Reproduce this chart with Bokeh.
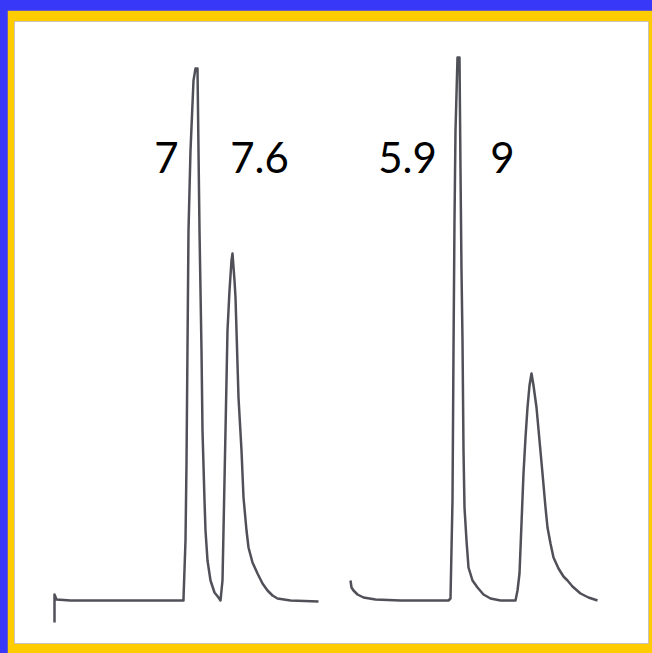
from bokeh.plotting import figure
from bokeh.models import Range1d, ColumnDataSource
from bokeh.core.properties import value
from bokeh.embed import file_html
from bokeh.resources import INLINE

# Chromatogram A (left): retention position, detector signal
trace_a_x = [54, 54, 56, 70, 120, 183, 183, 185, 186, 188, 190, 193, 195,
             197, 198, 199, 201, 202, 204, 205, 207, 210, 214, 218, 220,
             222, 223, 225, 227, 229, 231, 232, 234, 235, 238, 241, 243, 246,
             248, 252, 257, 262, 267, 272, 277, 290, 318]
trace_a_y = [-22, 6, 1, 0, 0, 0, 2, 60, 137, 370, 450, 520, 532,
             532, 450, 370, 250, 170, 100, 70, 40, 20, 8, 3, 0,
             20, 70, 170, 270, 310, 340, 347, 320, 303, 203, 150, 103, 70,
             53, 38, 27, 17, 10, 5, 2, 0, -1]

# Chromatogram B (right)
trace_b_x = [350, 351, 353, 357, 363, 375, 400, 448, 450, 452, 453, 454, 455, 457,
             459, 460, 461, 462, 463, 464, 466, 468, 472, 477, 483, 490, 500, 515,
             517, 519, 521, 523, 525, 527, 529, 531,
             533, 536, 539, 542, 545, 547, 550, 553, 558, 563, 567, 572, 580, 588, 597]
trace_b_y = [20, 13, 10, 6, 3, 1, 0, 0, 2, 100, 250, 380, 470, 543,
             543, 430, 330, 260, 150, 93, 60, 33, 20, 13, 6, 2, 0, 0,
             10, 27, 77, 127, 163, 193, 215, 227,
             215, 193, 160, 127, 93, 73, 57, 43, 32, 24, 20, 14, 7, 3, 0]

# Peak labels
label_text = ["7", "7.6", "5.9", "9"]
label_x = [166, 259, 407, 502]
label_y = [443, 443, 443, 443]

p = figure(width=645, height=643, output_backend="svg", toolbar_location=None,
           x_range=Range1d(14, 648), y_range=Range1d(-43, 579),
           min_border_left=7, min_border_right=4, min_border_top=11, min_border_bottom=10)
p.axis.visible = False
p.grid.visible = False
p.outline_line_color = None
p.background_fill_color = "white"
p.border_fill_color = "#FFCC00"

line_color = "#505058"
p.line(trace_a_x, trace_a_y, line_color=line_color, line_width=2.5, line_join="round")
p.line(trace_b_x, trace_b_y, line_color=line_color, line_width=2.5, line_join="round")

src = ColumnDataSource(dict(x=label_x, y=label_y, t=label_text))
p.text(x="x", y="y", text="t", source=src, text_align="center",
       text_baseline="alphabetic", text_font=value("Lato"),
       text_font_size="42px", text_color="black")

html = file_html(p, INLINE)
style = ("<style>html,body{background:#3838F8 !important;overflow:hidden;}"
         "body{margin:0 !important;padding:10px 0 0 7px !important;box-sizing:border-box;}</style>")
html = html.replace("</head>", style + "</head>", 1)
open("out.html", "w").write(html)
